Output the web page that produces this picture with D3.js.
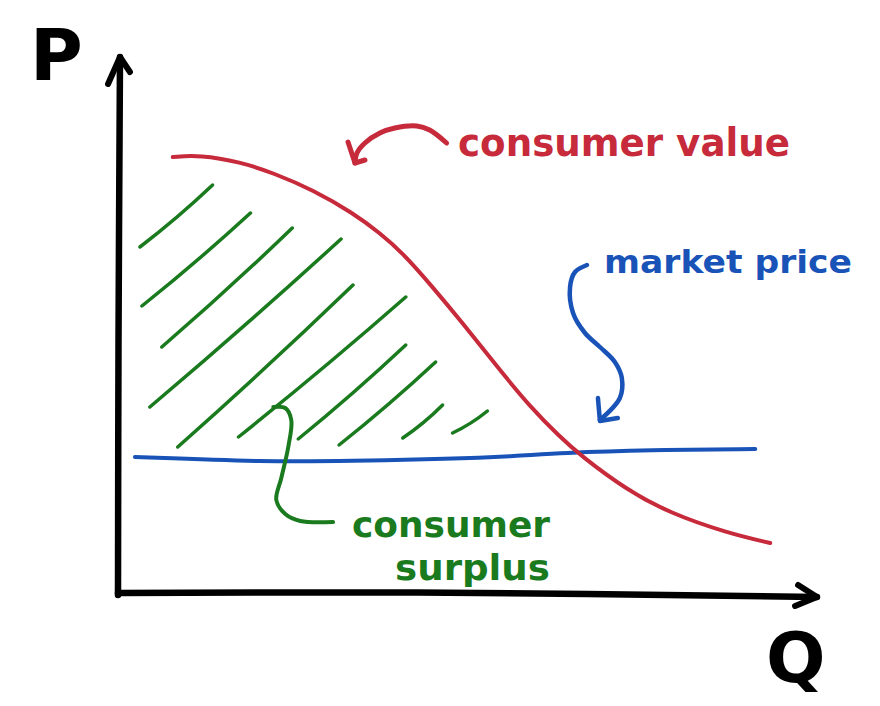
<!DOCTYPE html>
<html>
<head>
<meta charset="utf-8">
<script src="https://cdn.jsdelivr.net/npm/d3@7"></script>
<style>
  body { margin: 0; background: #fff; }
  .ink { fill: none; stroke-linecap: round; stroke-linejoin: round; }
  text { font-family: "DejaVu Sans", sans-serif; font-weight: bold; }
</style>
</head>
<body>
<script>
// consumer value curve (Q, P)
const valueQ = [5.5, 8.2, 12.3, 15.6, 19.6, 23.6, 26.3, 28.6, 31.6, 34.6, 38.1, 41.4, 44.4, 46.4, 51.1, 55.4, 61.2, 65.5];
const valueP = [43.6, 43.8, 43.1, 42.0, 40.3, 38.0, 36.0, 34.0, 30.6, 27.0, 22.6, 18.6, 15.6, 13.8, 10.3, 8.0, 6.0, 5.0];

// market price line
const priceQ = [1.7, 15.0, 23.3, 33.3, 40.1, 44.4, 53.4, 64.0];
const priceP = [13.6, 13.1, 13.2, 13.4, 13.7, 14.0, 14.3, 14.4];

// surplus hatching strokes: start / end
const hatchQ0 = [2.2, 2.4, 4.4, 3.2, 6.0, 12.1, 18.1, 22.2, 28.6, 33.6];
const hatchP0 = [34.6, 28.7, 24.6, 18.6, 14.6, 15.6, 15.4, 14.8, 15.5, 16.0];
const hatchQ1 = [9.5, 13.3, 17.5, 22.4, 23.6, 28.9, 28.9, 31.9, 32.6, 37.1];
const hatchP1 = [40.8, 38.0, 36.5, 35.4, 30.8, 29.6, 24.8, 23.1, 18.8, 18.2];

// annotation pointers
const valueArrowQ = [33.0, 31.3, 30.0, 27.8, 26.3, 24.8, 24.0, 23.8];
const valueArrowP = [45.0, 46.3, 46.7, 46.5, 46.0, 45.0, 44.0, 43.0];
const priceArrowQ = [47.1, 45.9, 45.4, 45.7, 46.9, 48.4, 49.9, 50.6, 50.4, 48.4];
const priceArrowP = [32.8, 32.1, 30.6, 28.0, 26.0, 24.6, 23.1, 21.5, 19.5, 17.3];
const surplusLeadQ = [15.6, 16.8, 17.4, 17.1, 16.4, 15.9, 16.8, 18.3, 21.6];
const surplusLeadP = [18.6, 18.5, 17.3, 14.6, 11.5, 9.3, 7.9, 7.2, 7.1];

// labels
const axisLabels = ["P", "Q"];
const valueLabel = "consumer value";
const priceLabel = "market price";
const surplusLabel = ["consumer", "surplus"];

const W = 880, H = 706;
const red = "#c62a3b", blue = "#1953b8", green = "#1a7a1e";

const x = d3.scaleLinear().domain([0, 70]).range([118, 815]);
const y = d3.scaleLinear().domain([0, 54]).range([593, 53]);

const zip = (qs, ps) => qs.map((q, i) => [q, ps[i]]);
const smooth = d3.line().x(d => x(d[0])).y(d => y(d[1])).curve(d3.curveCatmullRom.alpha(0.5));
const basis = d3.line().x(d => x(d[0])).y(d => y(d[1])).curve(d3.curveBasis);
const straight = d3.line().x(d => x(d[0])).y(d => y(d[1]));

const svg = d3.select("body").append("svg")
  .attr("width", W).attr("height", H);

svg.append("rect").attr("width", W).attr("height", H).attr("fill", "#fff");

// axes, drawn by hand
const axes = svg.append("g").attr("class", "ink").attr("stroke", "#000");
axes.append("path").attr("stroke-width", 6.5)
  .attr("d", smooth([[0, -0.2], [0.05, 25], [0.2, 53.6]]));
axes.append("path").attr("stroke-width", 6)
  .attr("d", straight([[-1.0, 50.9], [0.2, 53.6], [1.2, 52.1]]));
axes.append("path").attr("stroke-width", 6.5)
  .attr("d", smooth([[0, 0], [30, 0.05], [70.2, -0.4]]));
axes.append("path").attr("stroke-width", 6)
  .attr("d", straight([[68.3, 0.8], [70.2, -0.4], [68.0, -1.3]]));

svg.append("text").text(axisLabels[0])
  .attr("x", 30).attr("y", 80).attr("font-size", 72).attr("fill", "#000");
svg.append("text").text(axisLabels[1])
  .attr("x", 766).attr("y", 682).attr("font-size", 70).attr("fill", "#000");

// hatching
const hatch = hatchQ0.map((q, i) => [[q, hatchP0[i]], [hatchQ1[i], hatchP1[i]]]);
svg.append("g").attr("class", "ink").attr("stroke", green).attr("stroke-width", 3.5)
  .selectAll("path").data(hatch).join("path")
  .attr("d", d => {
    const p = d3.path();
    const x0 = x(d[0][0]), y0 = y(d[0][1]), x1 = x(d[1][0]), y1 = y(d[1][1]);
    const mx = (x0 + x1) / 2, my = (y0 + y1) / 2;
    const len = Math.hypot(x1 - x0, y1 - y0);
    const nx = (y1 - y0) / len, ny = -(x1 - x0) / len;
    p.moveTo(x0, y0);
    p.quadraticCurveTo(mx - nx * 2.5, my - ny * 2.5, x1, y1);
    return p.toString();
  });

// market price
svg.append("path").attr("class", "ink").attr("stroke", blue).attr("stroke-width", 4)
  .attr("d", basis(zip(priceQ, priceP)));

// consumer value
svg.append("path").attr("class", "ink").attr("stroke", red).attr("stroke-width", 4)
  .attr("d", basis(zip(valueQ, valueP)));

// pointers
svg.append("path").attr("class", "ink").attr("stroke", red).attr("stroke-width", 5)
  .attr("d", smooth(zip(valueArrowQ, valueArrowP)));
svg.append("path").attr("class", "ink").attr("stroke", red).attr("stroke-width", 5)
  .attr("d", straight([[23.1, 45.1], [23.8, 43.0], [24.8, 43.3]]));

svg.append("path").attr("class", "ink").attr("stroke", blue).attr("stroke-width", 4.5)
  .attr("d", smooth(zip(priceArrowQ, priceArrowP)));
svg.append("path").attr("class", "ink").attr("stroke", blue).attr("stroke-width", 4.5)
  .attr("d", straight([[48.2, 19.5], [48.4, 17.2], [50.2, 17.5]]));

svg.append("path").attr("class", "ink").attr("stroke", green).attr("stroke-width", 4)
  .attr("d", smooth(zip(surplusLeadQ, surplusLeadP)));

// labels
svg.append("text").text(valueLabel)
  .attr("x", 458).attr("y", 156).attr("font-size", 39)
  .attr("textLength", 332).attr("lengthAdjust", "spacingAndGlyphs").attr("fill", red);
svg.append("text").text(priceLabel)
  .attr("x", 604).attr("y", 273).attr("font-size", 32)
  .attr("textLength", 248).attr("lengthAdjust", "spacingAndGlyphs").attr("fill", blue);

svg.append("text").text(surplusLabel[0])
  .attr("x", 352).attr("y", 537).attr("font-size", 36).attr("fill", green)
  .attr("textLength", 198).attr("lengthAdjust", "spacingAndGlyphs");
svg.append("text").text(surplusLabel[1])
  .attr("x", 395).attr("y", 580).attr("font-size", 36).attr("fill", green)
  .attr("textLength", 155).attr("lengthAdjust", "spacingAndGlyphs");
</script>
</body>
</html>
